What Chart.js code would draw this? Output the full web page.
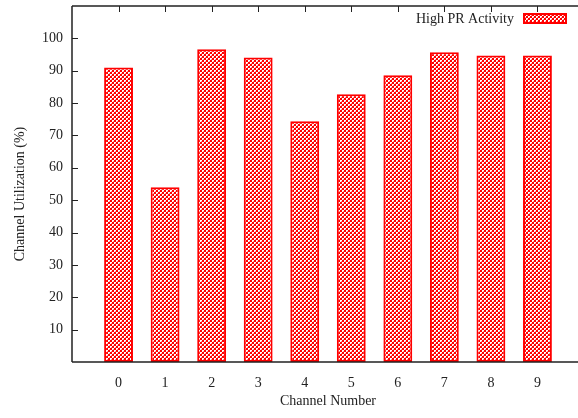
<!DOCTYPE html>
<html><head><meta charset="utf-8">
<script src="https://cdn.jsdelivr.net/npm/chart.js@4/dist/chart.umd.min.js"></script>
<style>html,body{margin:0;padding:0;background:#fff;overflow:hidden}#wrap{width:578px;height:418px;overflow:hidden}</style>
</head><body><div id="wrap"><canvas id="c" width="600" height="418"></canvas></div>
<script>
const channels = [0,1,2,3,4,5,6,7,8,9];
const utilization = [91,54,96.6,94.1,74.4,82.7,88.6,95.7,94.7,94.7];
const yTicks = [10,20,30,40,50,60,70,80,90,100];
const seriesLabel = 'High PR Activity';
const xTitle = 'Channel Number';
const yTitle = 'Channel Utilization (%)';

function makePattern(){
  const p = document.createElement('canvas'); p.width=4; p.height=4;
  const g = p.getContext('2d');
  g.fillStyle='#ff0000'; g.fillRect(0,0,4,4);
  g.fillStyle='#ffffff';
  g.fillRect(0,0,2,1); g.fillRect(0,1,1,1);
  g.fillRect(2,2,2,1); g.fillRect(2,3,1,1);
  g.fillStyle='#ff9090'; g.fillRect(1,1,1,1); g.fillRect(3,3,1,1);
  return document.getElementById('c').getContext('2d').createPattern(p,'repeat');
}
const pat = makePattern();
const FONT = {family:'"Liberation Serif","Times New Roman",serif', size:14};

const framePlugin = {
  id:'frame',
  afterDraw(chart){
    const {ctx, chartArea:a, scales} = chart;
    ctx.save();
    ctx.strokeStyle='#222'; ctx.lineWidth=1.5;
    ctx.beginPath();
    ctx.moveTo(a.left, a.top); ctx.lineTo(a.left, a.bottom);
    ctx.moveTo(a.left, a.top); ctx.lineTo(a.right, a.top);
    ctx.moveTo(a.left, a.bottom); ctx.lineTo(a.right, a.bottom);
    ctx.stroke();
    ctx.lineWidth=1;
    ctx.beginPath();
    yTicks.forEach(v=>{const y=Math.round(scales.y.getPixelForValue(v))+0.5; ctx.moveTo(a.left,y); ctx.lineTo(a.left+6,y);});
    channels.forEach(c=>{const x=Math.round(scales.x.getPixelForValue(c))+0.5; ctx.moveTo(x,a.top); ctx.lineTo(x,a.top+6);});
    ctx.stroke();
    // y title
    ctx.font = '14px "Liberation Serif", serif';
    ctx.fillStyle='#222'; ctx.textAlign='center'; ctx.textBaseline='middle';
    ctx.save(); ctx.translate(20, 194); ctx.rotate(-Math.PI/2); ctx.fillText(yTitle, 0, 0); ctx.restore();
    // legend
    ctx.textAlign='right';
    ctx.fillText(seriesLabel, 514, 19);
    ctx.fillStyle=pat; ctx.fillRect(524,14,42,9);
    ctx.strokeStyle='#ff0000'; ctx.lineWidth=2; ctx.strokeRect(524,14,42,9);
    ctx.restore();
  }
};

new Chart(document.getElementById('c'), {
  type:'bar',
  data:{datasets:[{label:seriesLabel, data:channels.map((c,i)=>({x:c,y:utilization[i]})),
    backgroundColor:pat, borderColor:'#ff0000', borderWidth:2, borderSkipped:false,
    barPercentage:0.62, categoryPercentage:1}]},
  options:{
    responsive:false, animation:false, devicePixelRatio:1,
    layout:{padding:{top:6,right:16,left:0,bottom:0}},
    plugins:{legend:{display:false}, tooltip:{enabled:false}},
    scales:{
      x:{type:'linear', min:-1, max:10, offset:false,
        afterFit(s){s.height=56; s.paddingLeft=0; s.paddingRight=0;},
        grid:{display:false, drawTicks:false}, border:{display:false},
        ticks:{stepSize:1, autoSkip:false, maxRotation:0, padding:13, color:'#222', font:FONT,
          callback:(v)=> (v>=0 && v<=9) ? String(v) : ''},
        title:{display:true, text:xTitle, color:'#222', font:FONT, padding:{top:2,bottom:8}}},
      y:{min:0, max:110,
        afterFit(s){s.width=72; s.paddingTop=0; s.paddingBottom=0;},
        grid:{display:false, drawTicks:false}, border:{display:false},
        ticks:{stepSize:10, padding:9, color:'#222', font:FONT,
          callback:(v)=> (v>=10 && v<=100) ? String(v) : ''},
        title:{display:false}}
    }
  },
  plugins:[framePlugin]
});
</script></body></html>
